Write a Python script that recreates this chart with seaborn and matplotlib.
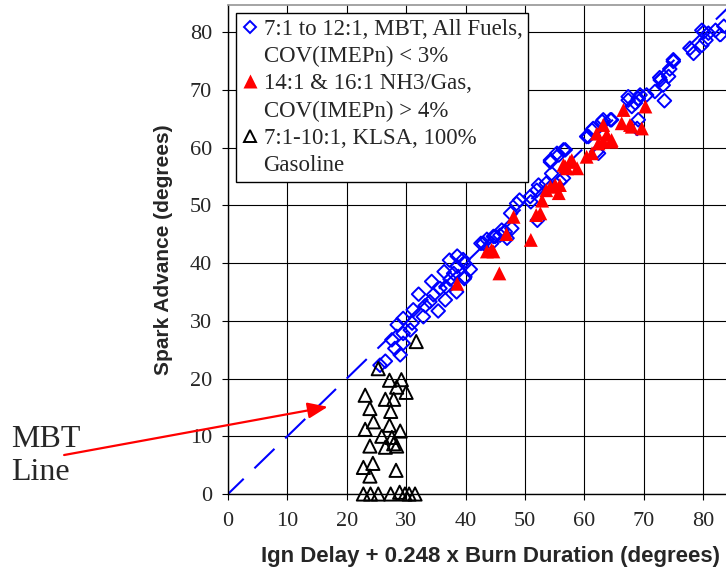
import matplotlib
matplotlib.use("Agg")
import matplotlib.pyplot as plt
from matplotlib.lines import Line2D
import seaborn as sns

# 7:1 to 12:1, MBT, all fuels (open blue diamonds)
mbt_x = [25.6, 26.5, 29.0, 28.1, 29.5, 27.6, 29.5, 30.7, 28.5, 29.5, 31.2, 32.9,
         35.4, 34.0, 36.6, 34.6, 32.1, 38.5, 35.7, 36.7, 34.3, 37.4, 39.8, 38.0,
         36.4, 40.8, 38.6, 39.9, 37.3, 38.6, 39.6, 39.9, 33.2, 31.0,
         42.6, 43.0, 43.6, 44.4, 44.7, 45.0, 45.8, 46.7, 47.0, 47.8, 46.1, 47.6,
         48.6, 49.1, 50.9, 51.0, 52.0, 52.1, 53.6, 52.3, 54.5, 56.5, 55.9, 54.3,
         55.7, 55.4, 56.5, 56.8, 54.3,
         60.4, 60.7, 61.3, 61.5, 63.0, 63.2, 64.4, 64.6, 62.4, 62.1, 69.1, 68.9,
         67.4, 67.4, 68.0, 68.6, 69.1, 69.4, 70.5, 71.9, 73.3, 73.5, 72.7, 72.8,
         74.2, 74.4, 75.0, 75.0, 77.8, 78.4, 79.8, 80.5, 79.8, 80.1, 80.9, 82.1,
         82.9, 83.5]
mbt_y = [22.3, 23.0, 24.1, 25.2, 26.1, 26.7, 27.8, 28.4, 29.3, 30.4, 31.9, 30.7,
         31.7, 33.3, 33.6, 34.5, 34.6, 35.0, 35.6, 35.9, 36.8, 37.2, 37.3, 38.2,
         38.5, 38.9, 39.4, 39.9, 40.5, 41.2, 40.6, 37.6, 32.6, 29.6,
         43.4, 43.4, 44.1, 43.4, 44.6, 44.6, 44.8, 45.4, 44.3, 46.0, 45.7, 48.6,
         50.3, 50.9, 51.5, 50.6, 52.6, 47.4, 53.8, 53.5, 55.5, 54.7, 54.1, 57.5,
         58.7, 59.0, 59.6, 59.6, 57.8,
         61.9, 61.9, 63.0, 63.3, 64.5, 64.8, 64.8, 64.8, 59.0, 59.3, 64.8, 63.3,
         68.2, 68.8, 67.1, 67.7, 68.5, 69.1, 69.1, 69.7, 70.8, 68.1, 72.1, 71.7,
         72.3, 73.6, 74.9, 75.2, 77.2, 76.3, 77.7, 78.6, 80.3, 80.0, 79.8, 80.3,
         79.5, 81.0]

# 14:1 & 16:1 NH3/gasoline (filled red triangles)
nh3_x = [38.6, 43.6, 44.4, 44.7, 45.7, 46.9, 48.1, 51.0, 51.9, 52.6, 52.9, 53.6,
         54.3, 55.1, 55.7, 55.9, 56.5, 56.8, 57.1, 57.6, 57.9, 58.8, 60.4, 61.3,
         62.1, 62.4, 63.2, 63.2, 63.8, 64.6, 64.6, 66.3, 66.6, 67.7, 68.0, 69.7,
         70.3]
nh3_y = [36.4, 42.0, 42.3, 42.0, 38.2, 45.0, 48.0, 44.0, 48.3, 48.6, 50.8, 52.6,
         53.2, 53.5, 52.1, 53.5, 57.0, 56.7, 56.4, 57.5, 57.8, 56.4, 58.4, 59.0,
         62.4, 60.7, 61.0, 63.9, 62.2, 61.0, 61.3, 64.2, 66.5, 63.9, 63.6, 63.3,
         67.1]

# 7:1-10:1, KLSA, 100% gasoline (open black triangles)
klsa_x = [25.3, 27.2, 29.2, 28.4, 30.0, 23.1, 26.5, 27.9, 23.9, 27.4, 24.5, 23.1,
          27.2, 29.0, 25.9, 27.6, 23.9, 26.5, 27.9, 28.4, 22.8, 24.4, 23.9, 28.3,
          31.7, 22.8, 24.0, 25.3, 27.4, 28.9, 29.8, 30.5, 31.5]
klsa_y = [21.7, 19.7, 19.8, 18.5, 17.6, 17.1, 16.4, 16.4, 14.8, 14.3, 12.5, 11.2,
          11.9, 10.9, 10.0, 9.8, 8.3, 8.1, 8.7, 8.3, 4.6, 5.3, 3.1, 4.1,
          26.4, 0.0, 0.0, 0.0, 0.0, 0.3, 0.0, 0.0, 0.0]

# MBT line, spark advance = ign delay + 0.248 x burn duration
line_x = [0, 84]
line_y = [0, 84]

legend_labels = ["7:1 to 12:1, MBT, All Fuels,", "COV(IMEPn) < 3%",
                 "14:1 & 16:1 NH3/Gas,", "COV(IMEPn) > 4%",
                 "7:1-10:1, KLSA, 100%", "Gasoline"]
ticks = [0, 10, 20, 30, 40, 50, 60, 70, 80]

sns.set_theme(style="white")
plt.rcParams['font.family'] = ['Liberation Serif', 'DejaVu Serif']

fig = plt.figure(figsize=(7.26, 5.73), dpi=100)
ax = fig.add_axes([228 / 726, 79 / 573, 498 / 726, 489 / 573])

ax.plot(line_x, line_y, color='#0000ff', lw=1.5,
        linestyle=(2.9, (13.4, 7.2)), zorder=2)

sns.scatterplot(x=mbt_x, y=mbt_y, marker='D', s=48, color='#0000ff',
                facecolor='none', edgecolor='#0000ff', linewidth=1.4, ax=ax, zorder=3)
sns.scatterplot(x=nh3_x, y=nh3_y, marker='^', s=100, color='#ff0000',
                edgecolor='none', linewidth=0, ax=ax, zorder=4)
sns.scatterplot(x=klsa_x, y=klsa_y, marker='^', s=90, color='black',
                facecolor='none', edgecolor='black', linewidth=1.4, ax=ax, zorder=4,
                clip_on=False)

ax.set_xlim(0, 83.87)
ax.set_ylim(0, 84.68)
ax.set_xticks(ticks)
ax.set_yticks(ticks)
ax.grid(True, color='black', lw=0.8)
ax.set_axisbelow(True)
ax.tick_params(axis='both', direction='out', length=4, width=0.8, color='black',
               labelsize=16, bottom=True, left=True)
ax.tick_params(axis='x', pad=9)
ax.tick_params(axis='y', pad=7.5)
for s in ['left', 'bottom']:
    ax.spines[s].set_color('black')
    ax.spines[s].set_linewidth(1.0)
ax.spines['top'].set_color('#999999')
ax.spines['right'].set_visible(False)

ax.set_xlabel("Ign Delay + 0.248 x Burn Duration (degrees)", fontsize=16,
              fontweight='bold', family=['Liberation Sans', 'DejaVu Sans'])
ax.set_ylabel("Spark Advance (degrees)", fontsize=15,
              fontweight='bold', family=['Liberation Sans', 'DejaVu Sans'])
ax.xaxis.set_label_coords(0.528, -0.106)
ax.yaxis.set_label_coords(-0.11, 0.5)

blank = Line2D([], [], ls='none', marker='')
handles = [
    Line2D([], [], ls='none', marker='D', mfc='none', mec='#0000ff', ms=6.5, mew=1.4),
    blank,
    Line2D([], [], ls='none', marker='^', mfc='#ff0000', mec='none', ms=10),
    blank,
    Line2D([], [], ls='none', marker='^', mfc='none', mec='black', ms=9, mew=1.4),
    blank,
]
leg = ax.legend(handles, legend_labels, loc='upper left',
                bbox_to_anchor=(8 / 498, 481 / 489), borderaxespad=0,
                fontsize=16.5, frameon=True, fancybox=False, edgecolor='black',
                framealpha=1, handlelength=0.7, handletextpad=0.25,
                labelspacing=0.27, borderpad=0.25)
leg.get_frame().set_linewidth(1.0)
leg.set_zorder(5)

ax.annotate("", xy=(16.8, 15.1), xytext=(-27.6, 6.75), xycoords='data',
            annotation_clip=False,
            arrowprops=dict(arrowstyle='-|>,head_length=0.55,head_width=0.22',
                            color='#ff0000', lw=1.6, mutation_scale=22,
                            shrinkA=0, shrinkB=0))
fig.text(11 / 726, 1 - 425 / 573, "MBT\nLine", fontsize=23, va='top', ha='left',
         linespacing=1.2)

fig.savefig("out.png", dpi=100)
